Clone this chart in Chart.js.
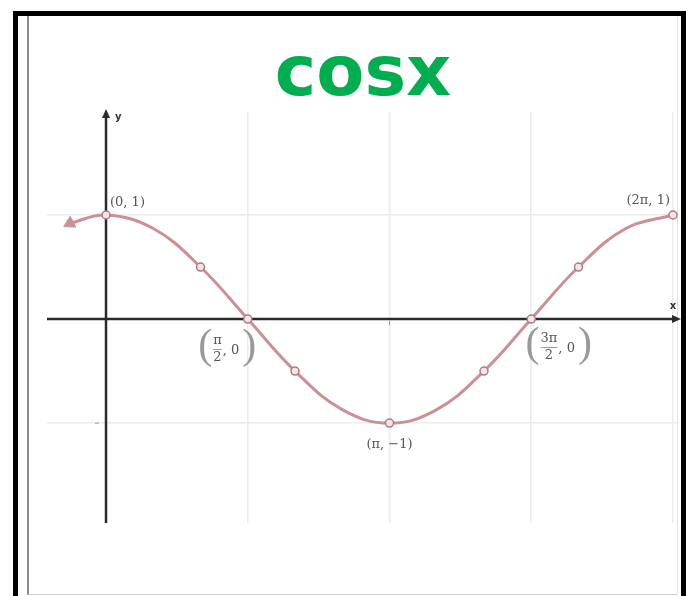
<!DOCTYPE html>
<html>
<head>
<meta charset="utf-8">
<script src="https://cdn.jsdelivr.net/npm/chart.js@4/dist/chart.umd.min.js"></script>
<style>
  html, body { margin: 0; padding: 0; background: #fff; }
  #wrap { position: relative; width: 692px; height: 596px; overflow: hidden; }
  /* cadre noir épais + filet gris intérieur */
  #outer { position: absolute; left: 13px; top: 11px; width: 663px; height: 640px;
           border: 5px solid #000; border-bottom: none; }
  #inner { position: absolute; left: 27px; top: 16px; width: 648px; height: 578px;
           border-left: 2px solid #8a8a8a; border-right: 1px solid #e2e2e2; border-bottom: 1px solid #cfcfcf; }
  #box { position: absolute; left: 0; top: 0; width: 692px; height: 596px; }
</style>
</head>
<body>
<div id="wrap">
  <div id="outer"></div>
  <div id="inner"></div>
  <div id="box"><canvas id="cosChart"></canvas></div>
</div>
<script>
// Points de la courbe y = cos x (x en radians)
var curveX = [-0.4, 0, Math.PI / 6, Math.PI / 3, Math.PI / 2, 2 * Math.PI / 3, 5 * Math.PI / 6, Math.PI,
              7 * Math.PI / 6, 4 * Math.PI / 3, 3 * Math.PI / 2, 5 * Math.PI / 3, 11 * Math.PI / 6, 2 * Math.PI];
var curveY = [0.92, 1, 0.87, 0.5, 0, -0.5, -0.87, -1, -0.87, -0.5, 0, 0.5, 0.87, 1];

// Points marqués d'un petit cercle
var markX = [0, Math.PI / 3, Math.PI / 2, 2 * Math.PI / 3, Math.PI, 4 * Math.PI / 3, 3 * Math.PI / 2, 5 * Math.PI / 3, 2 * Math.PI];
var markY = [1, 0.5, 0, -0.5, -1, -0.5, 0, 0.5, 1];

// Étiquettes des points remarquables (index dans markX / markY)
var labelIndex = [0, 2, 4, 6, 8];
var labelText = ['(0, 1)', ['π', '2', ', 0'], '(π, −1)', ['3π', '2', ', 0'], '(2π, 1)'];

// Lignes de grille
var gridX = [Math.PI / 2, Math.PI, 3 * Math.PI / 2, 2 * Math.PI];
var gridY = [1, -1];

// Placement des étiquettes autour de leur point
var labelPlace = [
    { dx: 4, dy: -12, align: 'left' },
    { dx: -20, dy: 30, align: 'center' },
    { dx: 0, dy: 22, align: 'center' },
    { dx: 28, dy: 28, align: 'center' },
    { dx: -3, dy: -14, align: 'right' }
];

var curveData = curveX.map(function (x, i) { return { x: x, y: curveY[i] }; });
var markData = markX.map(function (x, i) { return { x: x, y: markY[i] }; });

var lineColor = '#cb8f94';
var textColor = '#555';

// Fraction entre grandes parenthèses : (num/den, 0)
function drawFraction(ctx, cx, cy, parts) {
    var num = parts[0], den = parts[1], tail = parts[2];
    ctx.save();
    ctx.fillStyle = textColor;
    ctx.font = '13px "DejaVu Serif"';
    var fracW = Math.max(ctx.measureText(num).width, ctx.measureText(den).width);
    var tailW = ctx.measureText(tail).width;
    ctx.font = '300 42px "Liberation Serif"';
    var parW = ctx.measureText('(').width;
    var total = parW * 2 + fracW + tailW + 6;
    var x = cx - total / 2;

    ctx.textBaseline = 'middle';
    ctx.textAlign = 'left';
    ctx.fillStyle = '#999';
    ctx.fillText('(', x, cy - 2);
    x += parW + 1;

    ctx.fillStyle = textColor;
    ctx.font = '13px "DejaVu Serif"';
    ctx.textAlign = 'center';
    ctx.fillText(num, x + fracW / 2, cy - 8);
    ctx.fillText(den, x + fracW / 2, cy + 9);
    ctx.strokeStyle = '#999';
    ctx.lineWidth = 1;
    ctx.beginPath();
    ctx.moveTo(x, cy + 0.5);
    ctx.lineTo(x + fracW, cy + 0.5);
    ctx.stroke();
    x += fracW + 1;

    ctx.textAlign = 'left';
    ctx.fillText(tail, x, cy + 2);
    x += tailW + 3;

    ctx.fillStyle = '#999';
    ctx.font = '300 42px "Liberation Serif"';
    ctx.fillText(')', x, cy - 2);
    ctx.restore();
}

// Axes avec flèches, tracés sous la courbe
var axesPlugin = {
    id: 'axesPlugin',
    beforeDatasetsDraw: function (chart) {
        var ctx = chart.ctx, area = chart.chartArea;
        var xs = chart.scales.x, ys = chart.scales.y;
        var x0 = xs.getPixelForValue(0), y0 = ys.getPixelForValue(0);
        ctx.save();
        ctx.strokeStyle = '#2a2a2a';
        ctx.fillStyle = '#2a2a2a';
        ctx.lineWidth = 2.5;

        ctx.beginPath();
        ctx.moveTo(area.left, y0);
        ctx.lineTo(area.right - 4, y0);
        ctx.moveTo(x0, area.bottom);
        ctx.lineTo(x0, area.top + 4);
        ctx.stroke();

        // flèche de l'axe des x
        ctx.beginPath();
        ctx.moveTo(area.right + 2, y0);
        ctx.lineTo(area.right - 7, y0 - 4);
        ctx.lineTo(area.right - 7, y0 + 4);
        ctx.closePath();
        ctx.fill();
        // flèche de l'axe des y
        ctx.beginPath();
        ctx.moveTo(x0, area.top - 3);
        ctx.lineTo(x0 - 4, area.top + 6);
        ctx.lineTo(x0 + 4, area.top + 6);
        ctx.closePath();
        ctx.fill();

        // petites graduations
        ctx.lineWidth = 1;
        ctx.strokeStyle = '#999';
        var xp = xs.getPixelForValue(Math.PI);
        ctx.beginPath();
        ctx.moveTo(xp, y0 + 2);
        ctx.lineTo(xp, y0 + 6);
        var ym = ys.getPixelForValue(-1);
        ctx.moveTo(x0 - 11, ym);
        ctx.lineTo(x0 - 7, ym);
        ctx.stroke();

        ctx.font = 'bold 10px "DejaVu Sans"';
        ctx.fillStyle = '#333';
        ctx.textBaseline = 'middle';
        ctx.textAlign = 'left';
        ctx.fillText('y', x0 + 9, area.top + 5);
        ctx.textAlign = 'center';
        ctx.fillText('x', area.right - 6, y0 - 13);
        ctx.restore();
    }
};

// Étiquettes des points
var labelsPlugin = {
    id: 'labelsPlugin',
    afterDatasetsDraw: function (chart) {
        var ctx = chart.ctx;
        var xs = chart.scales.x, ys = chart.scales.y;
        labelIndex.forEach(function (idx, i) {
            var px = xs.getPixelForValue(markX[idx]) + labelPlace[i].dx;
            var py = ys.getPixelForValue(markY[idx]) + labelPlace[i].dy;
            var t = labelText[i];
            if (Array.isArray(t)) {
                drawFraction(ctx, px, py, t);
            } else {
                ctx.save();
                ctx.font = '13px "DejaVu Serif"';
                ctx.fillStyle = textColor;
                ctx.textAlign = labelPlace[i].align;
                ctx.textBaseline = 'middle';
                ctx.fillText(t, px, py);
                ctx.restore();
            }
        });
    }
};

var cosChart = new Chart(document.getElementById('cosChart').getContext('2d'), {
    type: 'scatter',
    data: {
        datasets: [{
            label: 'cos x',
            data: curveData,
            showLine: true,
            borderColor: lineColor,
            borderWidth: 3,
            tension: 0.4,
            backgroundColor: lineColor,
            pointStyle: 'triangle',
            pointRotation: -118,
            pointRadius: function (c) { return c.dataIndex === 0 ? 7 : 0; },
            pointBorderWidth: 1,
            order: 2
        }, {
            label: 'points',
            data: markData,
            showLine: false,
            pointRadius: 4,
            pointBorderWidth: 1.5,
            pointBorderColor: '#ad7a80',
            pointBackgroundColor: '#f4e6e6',
            order: 1
        }]
    },
    options: {
        responsive: true,
        maintainAspectRatio: false,
        animation: false,
        layout: { padding: { left: 47, right: 13, top: 42, bottom: 73 } },
        plugins: {
            legend: { display: false },
            tooltip: { enabled: false },
            title: {
                display: true,
                text: 'cosx',
                color: '#00ad4f',
                font: { family: 'DejaVu Sans', size: 70, weight: 'bold', lineHeight: 1.0 },
                padding: { top: 0, bottom: 0 }
            }
        },
        scales: {
            x: {
                type: 'linear',
                min: -0.654,
                max: 6.35,
                afterBuildTicks: function (axis) {
                    axis.ticks = gridX.map(function (v) { return { value: v }; });
                },
                ticks: { display: false },
                border: { display: false },
                grid: { color: '#ececec', lineWidth: 1.5, drawTicks: false }
            },
            y: {
                type: 'linear',
                min: -1.96,
                max: 1.99,
                afterBuildTicks: function (axis) {
                    axis.ticks = gridY.map(function (v) { return { value: v }; });
                },
                ticks: { display: false },
                border: { display: false },
                grid: { color: '#ececec', lineWidth: 1.5, drawTicks: false }
            }
        }
    },
    plugins: [axesPlugin, labelsPlugin]
});
</script>
</body>
</html>
